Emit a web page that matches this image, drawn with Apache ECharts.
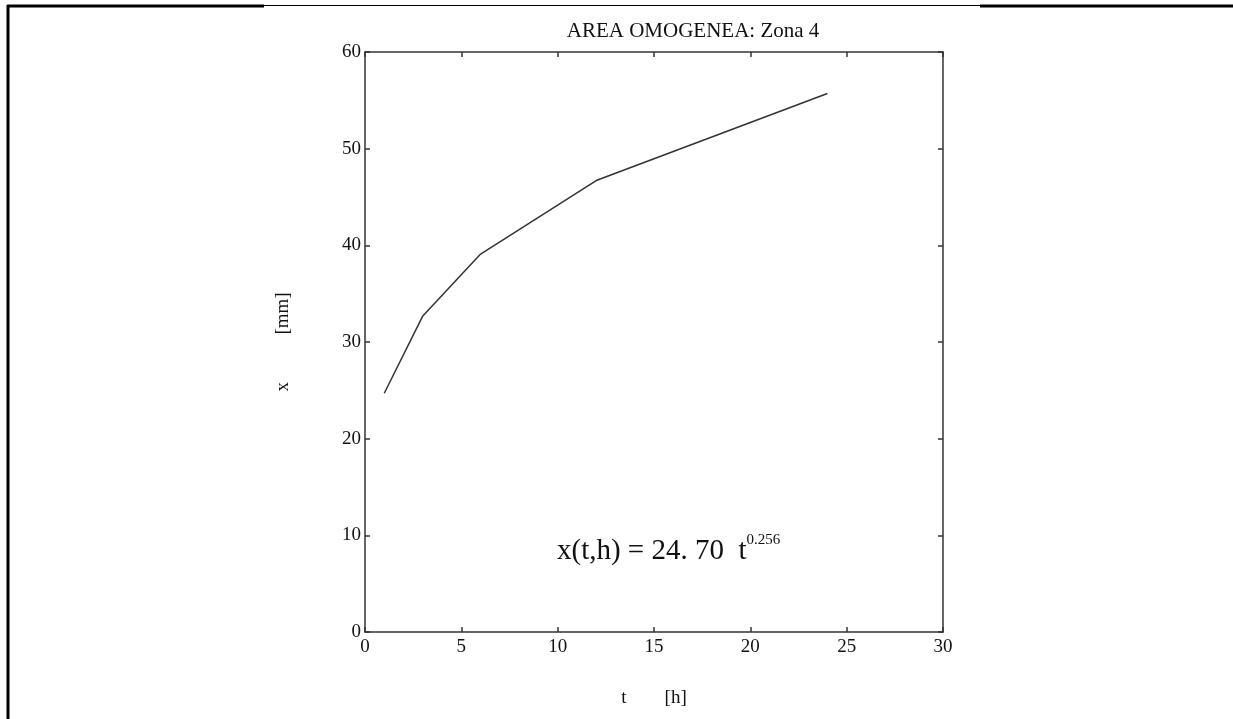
<!DOCTYPE html>
<html>
<head>
<meta charset="utf-8">
<script src="https://cdn.jsdelivr.net/npm/echarts@6/dist/echarts.min.js"></script>
<style>
html,body{margin:0;padding:0;background:#fff;}
#main{width:1233px;height:719px;}
</style>
</head>
<body>
<div id="main"></div>
<script>
// Data
var tValues = [1, 3, 6, 12, 24];
var xValues = [24.7, 32.7, 39.1, 46.7, 55.7];
var xTicks = [0, 5, 10, 15, 20, 25, 30];
var yTicks = [0, 10, 20, 30, 40, 50, 60];
var titleText = 'AREA OMOGENEA: Zona 4';
var formulaMain = 'x(t,h) = 24. 70  t';
var formulaExp = '0.256';

var serif = '"Liberation Serif", "DejaVu Serif", serif';
var axisColor = '#333';
var chart = echarts.init(document.getElementById('main'));

var seriesData = tValues.map(function (t, i) { return [t, xValues[i]]; });

function axisCommon(extra) {
  var base = {
    type: 'value',
    axisLine: { show: true, onZero: false, lineStyle: { color: axisColor, width: 1.5 } },
    axisTick: { show: true, inside: true, length: 5, lineStyle: { color: axisColor, width: 1.5 } },
    splitLine: { show: false }
  };
  for (var k in extra) base[k] = extra[k];
  return base;
}

chart.setOption({
  animation: false,
  backgroundColor: '#fff',
  textStyle: { fontFamily: serif },
  title: [
    {
      text: titleText,
      left: 688, top: 16, textAlign: 'center',
      textStyle: { fontFamily: serif, fontSize: 21, fontWeight: 'normal', color: '#111' }
    },
    {
      text: '{m|' + formulaMain + '}{s|' + formulaExp + '}',
      left: 552, top: 528,
      textStyle: {
        fontWeight: 'normal',
        rich: {
          m: { fontFamily: serif, fontSize: 29, fontWeight: 'normal', color: '#111', verticalAlign: 'bottom' },
          s: { fontFamily: serif, fontSize: 15, fontWeight: 'normal', color: '#111', verticalAlign: 'top', padding: [0, 0, 18, 0] }
        }
      }
    }
  ],
  grid: { left: 365, top: 52, width: 578, height: 580, containLabel: false },
  xAxis: [
    axisCommon({
      min: 0, max: 30, interval: 5, position: 'bottom',
      name: 't        [h]', nameLocation: 'middle', nameGap: 57,
      nameTextStyle: { fontFamily: serif, fontSize: 19, color: '#111' },
      axisLabel: { fontFamily: serif, fontSize: 19, color: '#111', margin: 6,
        formatter: function (v) { return xTicks.indexOf(v) >= 0 ? String(v) : ''; } }
    }),
    axisCommon({ min: 0, max: 30, interval: 5, position: 'top', axisLabel: { show: false } })
  ],
  yAxis: [
    axisCommon({
      min: 0, max: 60, interval: 10, position: 'left',
      name: 'x          [mm]', nameLocation: 'middle', nameGap: 72, nameRotate: 90,
      nameTextStyle: { fontFamily: serif, fontSize: 19, color: '#111' },
      axisLabel: { fontFamily: serif, fontSize: 19, color: '#111', margin: 4,
        formatter: function (v) { return yTicks.indexOf(v) >= 0 ? String(v) : ''; } }
    }),
    axisCommon({ min: 0, max: 60, interval: 10, position: 'right', axisLabel: { show: false } })
  ],
  series: [{
    type: 'line',
    data: seriesData,
    showSymbol: false,
    symbol: 'none',
    lineStyle: { color: '#333', width: 1.5 },
    xAxisIndex: 0, yAxisIndex: 0
  }],
  graphic: [
    { type: 'line', shape: { x1: 7, y1: 6, x2: 264, y2: 6 }, style: { stroke: '#000', lineWidth: 3 } },
    { type: 'line', shape: { x1: 264, y1: 5.5, x2: 980, y2: 5.5 }, style: { stroke: '#000', lineWidth: 1 } },
    { type: 'line', shape: { x1: 980, y1: 6, x2: 1233, y2: 6 }, style: { stroke: '#000', lineWidth: 3 } },
    { type: 'line', shape: { x1: 8, y1: 5, x2: 8, y2: 719 }, style: { stroke: '#000', lineWidth: 3 } }
  ]
});
</script>
</body>
</html>
